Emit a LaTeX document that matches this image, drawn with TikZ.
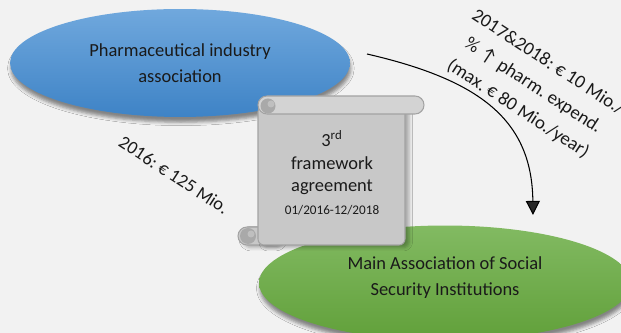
\documentclass[tikz,border=0pt]{standalone}
\usepackage{fontspec}
\setmainfont{Carlito}
\usetikzlibrary{shapes.geometric,arrows.meta,shadows.blur}
\frenchspacing

\definecolor{paper}{HTML}{F2F2F2}
\definecolor{bluetop}{HTML}{70A8DD}
\definecolor{bluebot}{HTML}{3E83C6}
\definecolor{greentop}{HTML}{82BA62}
\definecolor{greenbot}{HTML}{61A03A}
\definecolor{scrollfill}{HTML}{C8C8C8}
\definecolor{scrollline}{HTML}{A3A3A3}
\definecolor{curl}{HTML}{A9A9A9}
\definecolor{ink}{HTML}{1A1A1A}

\tikzset{
	party/.style={ellipse, inner sep=0pt, align=center, text=ink,
		font=\fontsize{10.5}{14.7}\selectfont,
		blur shadow={shadow xshift=0.5pt, shadow yshift=-3pt, shadow opacity=45}},
	scroll/.style={fill=scrollfill, draw=scrollline, line width=0.6pt},
	amount/.style={font=\fontsize{10.7}{15.8}\selectfont, align=center, rotate=-33, text=ink},
	payment/.style={line width=0.6pt, -{Triangle[length=8pt,width=8pt]}},
}

\begin{document}
\begin{tikzpicture}[x=0.02cm,y=-0.02cm]
	
	\useasboundingbox (0,0) rectangle (621,333);
	\clip (0,0) rectangle (621,333);
	\fill[paper] (0,0) rectangle (621,333);
	
	% the two parties
	\node[party, minimum width=6.8cm, minimum height=2.16cm, top color=bluetop, bottom color=bluebot]
		(pharma) at (180,63) {Pharmaceutical industry\\association};
	\node[party, minimum width=7.44cm, minimum height=2.3cm, top color=greentop, bottom color=greenbot]
		(hvb) at (445,283) {};
	\node[align=center, text=ink, font=\fontsize{10.5}{14.7}\selectfont]
		(hvb text) at ([yshift=3.2pt]hvb.center) {Main Association of Social\\Security Institutions};
	
	% scroll with the agreement
	\draw[scroll, rounded corners=0.18cm, blur shadow={shadow yshift=-1.5pt, shadow opacity=30}] (238,227) rectangle (280,245);
	\draw[scroll, rounded corners=0.12cm, blur shadow={shadow yshift=-1.5pt, shadow opacity=30}] (258,106) rectangle (405,245);
	\fill[curl] (248,236) circle (8);
	\fill[scrollfill!70!curl] (251,234) circle (3.5);
	\draw[scroll, fill=scrollfill!80!white, rounded corners=0.18cm] (258,96) rectangle (424,114);
	\fill[curl] (268,106) circle (7.5);
	\fill[scrollfill!70!curl] (271,104) circle (3.5);
	
	\node[align=center, text=ink, font=\fontsize{10.5}{12.8}\selectfont] (deal) at (332,173)
		{3\textsuperscript{rd}\\framework\\agreement\\{\fontsize{7.5}{9}\selectfont 01/2016-12/2018}};
	
	% payments
	\coordinate (pay from) at (367,54);
	\coordinate (pay to) at (533,215);
	\draw[payment] (pay from) .. controls (480,80) and (532,120) .. (pay to);
	
	\node[amount] (yearly) at (533,86) {2017\&2018: € 10 Mio./\\\% ↑ pharm. expend.\\(max. € 80 Mio./year)};
	\node[amount, font=\fontsize{10.5}{14}\selectfont] (lump) at (174,175) {2016: € 125 Mio.};
	
\end{tikzpicture}
\end{document}
